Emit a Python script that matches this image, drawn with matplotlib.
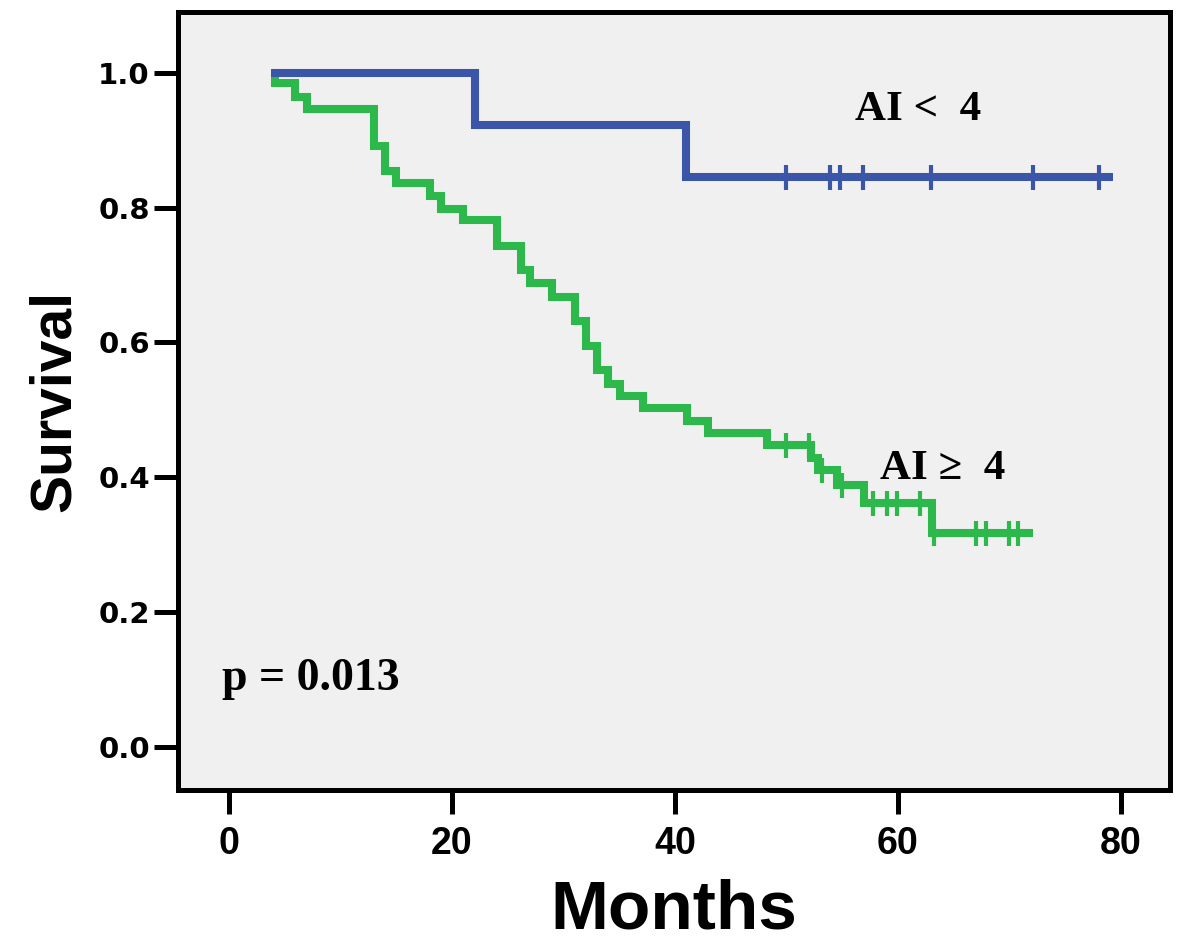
import numpy as np
import matplotlib
matplotlib.use("Agg")
import matplotlib.pyplot as plt


# Kaplan-Meier steps (months, survival after the step)
BLUE_TIMES = [3.8, 22.1, 41.0]
BLUE_SURV = [1.0, 0.923, 0.846]
BLUE_END = 79.3
BLUE_CENSOR = [50.0, 53.9, 54.8, 56.9, 63.0, 72.1, 78.0]

GREEN_TIMES = [4.0, 4.1, 5.9, 7.0, 13.0, 14.0, 15.0, 18.0, 19.0, 21.0, 24.0,
               26.2, 27.0, 29.0, 31.0, 32.0, 33.0, 34.0, 35.1, 37.1, 41.1,
               43.0, 48.3, 52.2, 52.8, 54.5, 57.0, 63.1]
GREEN_SURV = [1.0, 0.985, 0.964, 0.947, 0.892, 0.855, 0.836, 0.818, 0.798,
              0.781, 0.743, 0.707, 0.688, 0.668, 0.632, 0.595, 0.559, 0.538,
              0.520, 0.502, 0.483, 0.465, 0.447, 0.429, 0.411, 0.389, 0.362,
              0.317]
GREEN_END = 72.1
GREEN_CENSOR = [50.0, 52.0, 53.2, 55.0, 57.8, 59.0, 59.9, 62.0, 63.2, 67.0,
                67.9, 70.0, 70.8]

X_TICKS = [0, 20, 40, 60, 80]
Y_TICKS = [0.0, 0.2, 0.4, 0.6, 0.8, 1.0]

BLUE = "#3B55A8"
GREEN = "#2DB84B"

NARROW = ["Liberation Sans Narrow", "Liberation Sans", "DejaVu Sans"]
SANS = ["Liberation Sans", "DejaVu Sans"]
SERIF = ["Liberation Serif", "DejaVu Serif"]


def draw_km(ax, times, surv, end, censor, color, z):
    """Step curve with censor ticks."""
    t = np.array(list(times) + [end])
    s = np.array(list(surv) + [surv[-1]])
    ax.step(t, s, where="post", color=color, linewidth=5.8,
            solid_joinstyle="miter", solid_capstyle="butt", zorder=z)
    idx = np.searchsorted(np.array(times), np.array(censor), side="right") - 1
    cs = np.array(surv)[idx]
    ax.plot(censor, cs, linestyle="none", marker="|", markersize=18,
            markeredgewidth=3.0, color=color, zorder=z)


fig = plt.figure(figsize=(12, 9.48), dpi=100)
ax = fig.add_axes([0.148, 0.167, 0.827, 0.820])
ax.set_facecolor("#F0F0F0")

draw_km(ax, GREEN_TIMES, GREEN_SURV, GREEN_END, GREEN_CENSOR, GREEN, 2)
draw_km(ax, BLUE_TIMES, BLUE_SURV, BLUE_END, BLUE_CENSOR, BLUE, 3)

ax.set_xlim(-4.6, 84.4)
ax.set_ylim(-0.064, 1.09)
ax.set_xticks(X_TICKS)
ax.set_yticks(Y_TICKS)
ax.set_yticklabels([f"{v:.1f}" for v in Y_TICKS], fontfamily="DejaVu Sans",
                   fontweight="heavy", fontsize=21)
ax.set_xticklabels([str(v) for v in X_TICKS], family=NARROW,
                   fontweight="bold", fontsize=27)

for side in ax.spines.values():
    side.set_linewidth(3.6)
    side.set_color("black")
ax.tick_params(axis="both", direction="out", length=17, width=3.6,
               colors="black")
ax.tick_params(axis="x", pad=9)
ax.tick_params(axis="y", pad=3)

ax.set_xlabel("Months", family=SANS, fontweight="bold", fontsize=50,
              labelpad=12)
ax.set_ylabel("Survival", family=SANS, fontweight="bold", fontsize=41,
              labelpad=12)

ax.text(61.8, 0.945, "AI <  4", family=SERIF, fontweight="bold",
        fontsize=31, ha="center", va="center", zorder=4)
ax.text(64.0, 0.412, "AI \u2265  4", family=SERIF, fontweight="bold",
        fontsize=31, ha="center", va="center", zorder=4)
ax.text(-0.6, 0.10, "p = 0.013", family=SERIF, fontweight="bold",
        fontsize=33, ha="left", va="center", zorder=4)

fig.savefig("out.png", dpi=100, facecolor="white")
